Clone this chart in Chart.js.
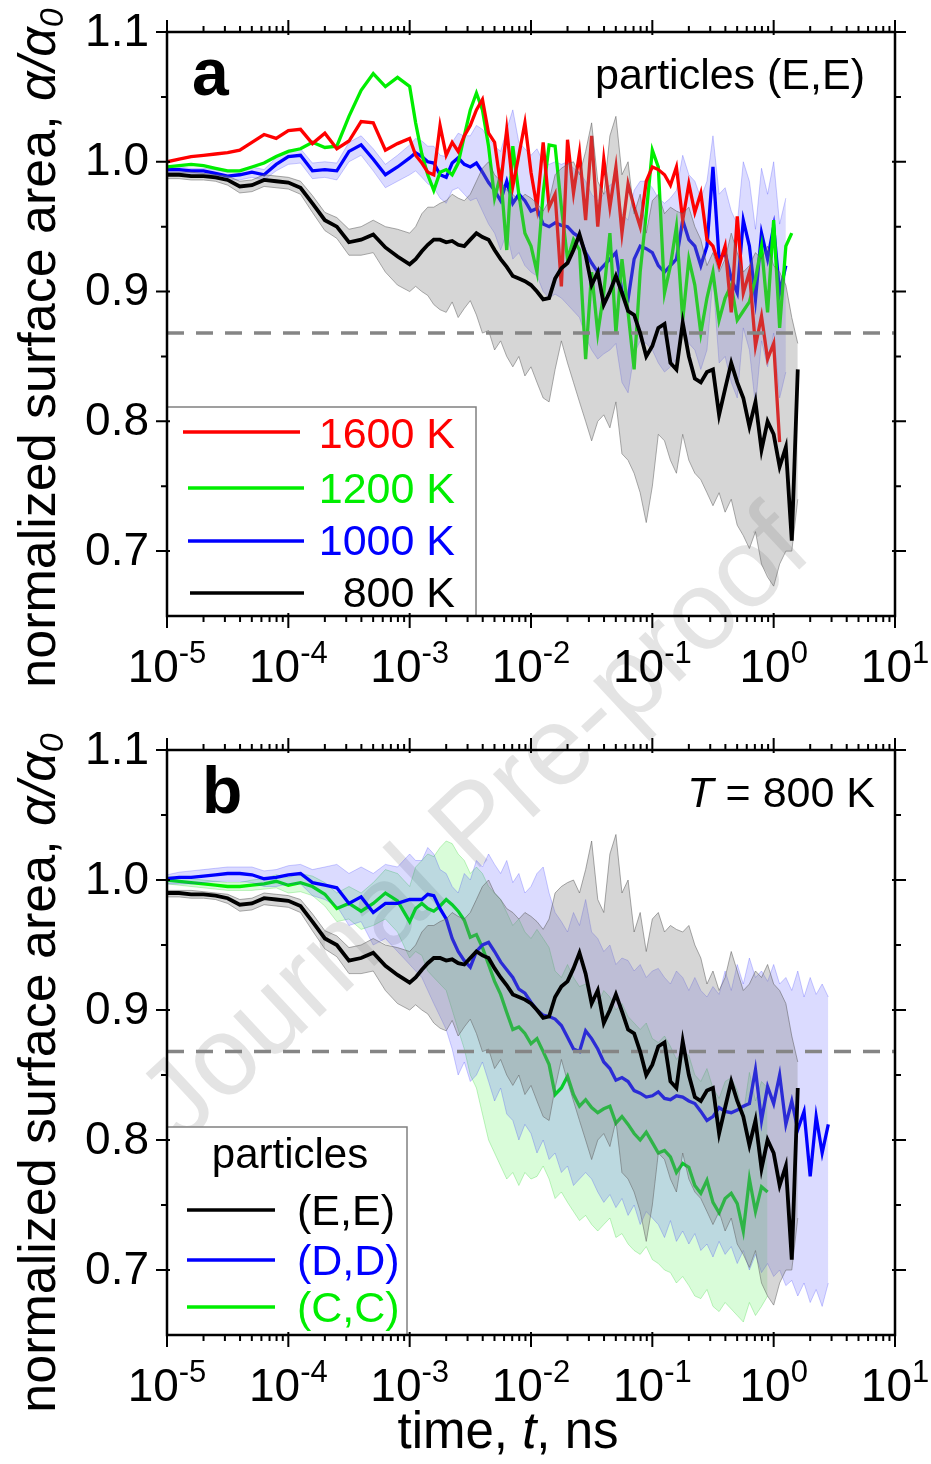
<!DOCTYPE html>
<html>
<head>
<meta charset="utf-8">
<script src="https://cdn.jsdelivr.net/npm/chart.js@4.4.1/dist/chart.umd.min.js"></script>
<style>
  html, body { margin: 0; padding: 0; background: #fff; }
  #page { position: relative; width: 931px; height: 1464px; overflow: hidden; }
  #wm { position: absolute; left: 472px; top: 822px; transform: translate(-50%, -50%) rotate(-43deg);
        font: 112px "Liberation Sans", Arial, sans-serif; color: #e4e4e4; white-space: nowrap; }
  canvas { position: absolute; left: 0; }
  #ca { top: 0; }
  #cb { top: 720px; }
</style>
</head>
<body>
<div id="page">
  <div id="wm">Journal Pre-proof</div>
  <canvas id="ca" width="931" height="720"></canvas>
  <canvas id="cb" width="931" height="744"></canvas>
</div>
<script>
const FONT = '"Liberation Sans", Arial, sans-serif';

// time grid, ns
const TIME = [
  1e-5, 1.26e-5, 1.58e-5, 2e-5, 2.51e-5, 3.16e-5, 3.98e-5, 5.01e-5, 6.31e-5, 7.94e-5,
  1e-4, 1.26e-4, 1.58e-4, 2e-4, 2.51e-4, 3.16e-4, 3.98e-4, 5.01e-4, 6.31e-4, 7.94e-4,
  1e-3, 1.12e-3, 1.26e-3, 1.41e-3, 1.58e-3, 1.78e-3, 2e-3, 2.24e-3, 2.51e-3, 2.82e-3,
  3.16e-3, 3.55e-3, 3.98e-3, 4.47e-3, 5.01e-3, 5.62e-3, 6.31e-3, 7.08e-3, 7.94e-3, 8.91e-3,
  1e-2, 1.12e-2, 1.26e-2, 1.41e-2, 1.58e-2, 1.78e-2, 2e-2, 2.24e-2, 2.51e-2, 2.82e-2,
  3.16e-2, 3.55e-2, 3.98e-2, 4.47e-2, 5.01e-2, 5.62e-2, 6.31e-2, 7.08e-2, 7.94e-2, 8.91e-2,
  0.1, 0.112, 0.126, 0.141, 0.158, 0.178, 0.2, 0.224, 0.251, 0.282,
  0.316, 0.355, 0.398, 0.447, 0.501, 0.562, 0.631, 0.708, 0.794, 0.891,
  1, 1.12, 1.26, 1.41, 1.58, 1.78, 2, 2.24, 2.51, 2.82
];

// 800 K, particles (E,E) -- shared by both panels
const EE_800 = [
  0.990, 0.990, 0.989, 0.989, 0.988, 0.986, 0.981, 0.982, 0.986, 0.985,
  0.984, 0.980, 0.968, 0.955, 0.950, 0.938, 0.940, 0.944, 0.934, 0.927,
  0.921, 0.925, 0.931, 0.936, 0.940, 0.940, 0.938, 0.939, 0.936, 0.935,
  0.940, 0.945, 0.942, 0.940, 0.932, 0.925, 0.919, 0.912, 0.910, 0.908,
  0.905, 0.900, 0.894, 0.895, 0.910, 0.918, 0.922, 0.932, 0.944, 0.928,
  0.905, 0.915, 0.890, 0.900, 0.912, 0.899, 0.885, 0.882, 0.868, 0.850,
  0.858, 0.872, 0.875, 0.845, 0.840, 0.876, 0.850, 0.833, 0.830, 0.838,
  0.840, 0.805, 0.825, 0.845, 0.830, 0.818, 0.796, 0.815, 0.778, 0.800,
  0.790, 0.765, 0.780, 0.708, 0.840, null, null, null, null, null
];
const EE_800_LO = [
  0.987, 0.987, 0.986, 0.986, 0.985, 0.982, 0.976, 0.977, 0.981, 0.980,
  0.979, 0.975, 0.961, 0.947, 0.941, 0.928, 0.928, 0.930, 0.915, 0.905,
  0.900, 0.904, 0.900, 0.897, 0.890, 0.886, 0.884, 0.892, 0.880, 0.887,
  0.893, 0.882, 0.868, 0.870, 0.855, 0.862, 0.850, 0.842, 0.850, 0.835,
  0.842, 0.830, 0.818, 0.815, 0.840, 0.862, 0.845, 0.830, 0.815, 0.800,
  0.785, 0.800, 0.805, 0.795, 0.815, 0.775, 0.770, 0.760, 0.745, 0.722,
  0.750, 0.790, 0.785, 0.770, 0.760, 0.790, 0.770, 0.760, 0.755, 0.745,
  0.735, 0.745, 0.730, 0.740, 0.720, 0.712, 0.702, 0.715, 0.690, 0.680,
  0.673, 0.690, 0.700, 0.700, 0.740, null, null, null, null, null
];
const EE_800_HI = [
  0.992, 0.992, 0.992, 0.991, 0.990, 0.989, 0.985, 0.986, 0.990, 0.989,
  0.988, 0.985, 0.974, 0.961, 0.957, 0.948, 0.950, 0.955, 0.950, 0.948,
  0.945, 0.950, 0.960, 0.965, 0.965, 0.968, 0.970, 0.975, 0.972, 0.970,
  0.975, 0.985, 0.995, 1.000, 0.990, 0.985, 0.978, 0.975, 0.970, 0.975,
  0.972, 0.968, 0.962, 0.970, 0.990, 0.995, 0.998, 1.000, 0.990, 1.008,
  1.030, 0.985, 0.975, 1.020, 1.035, 0.990, 1.000, 0.960, 0.975, 0.945,
  0.970, 0.975, 0.960, 0.965, 0.962, 0.960, 0.965, 0.950, 0.940, 0.920,
  0.930, 0.915, 0.925, 0.945, 0.930, 0.915, 0.920, 0.930, 0.925, 0.935,
  0.920, 0.915, 0.905, 0.880, 0.860, null, null, null, null, null
];

// panel a, particles (E,E)
const EE_1600 = [
  1.000, 1.002, 1.004, 1.005, 1.006, 1.007, 1.009, 1.015, 1.021, 1.018,
  1.024, 1.025, 1.014, 1.022, 1.010, 1.016, 1.031, 1.030, 1.009, 1.014,
  1.018, 1.005, 0.999, 0.992, 0.990, 1.028, 1.005, 1.015, 1.008, 1.020,
  1.028, 1.040, 1.048, 1.022, 1.015, 0.982, 1.025, 0.981, 1.005, 1.030,
  0.992, 0.965, 1.015, 0.965, 0.975, 0.904, 1.017, 0.976, 1.007, 0.955,
  1.020, 0.950, 1.002, 0.965, 0.996, 0.945, 0.983, 0.965, 0.950, 0.985,
  0.996, 0.994, 0.990, 0.982, 0.996, 0.955, 0.983, 0.961, 0.976, 0.940,
  0.935, 0.920, 0.935, 0.884, 0.958, 0.899, 0.915, 0.858, 0.881, 0.848,
  0.860, 0.784, null, null, null, null, null, null, null, null
];
const EE_1200 = [
  0.996, 0.997, 0.998, 0.997, 0.995, 0.993, 0.993, 0.996, 0.999, 1.004,
  1.008, 1.010, 1.015, 1.011, 1.012, 1.035, 1.055, 1.068, 1.058, 1.065,
  1.058, 1.030, 1.006, 0.990, 0.978, 0.992, 0.994, 0.990, 0.999, 1.020,
  1.040, 1.053, 1.040, 1.012, 0.972, 0.990, 0.932, 1.012, 0.975, 0.945,
  0.935, 0.915, 0.976, 1.013, 1.012, 0.965, 0.925, 0.940, 0.932, 0.848,
  0.915, 0.868, 0.899, 0.945, 0.868, 0.925, 0.884, 0.840, 0.915, 0.960,
  1.009, 0.996, 0.899, 0.920, 0.950, 0.878, 0.925, 0.905, 0.868, 0.895,
  0.915, 0.878, 0.895, 0.905, 0.878, 0.885, 0.892, 0.910, 0.935, 0.884,
  0.955, 0.872, 0.935, 0.945, null, null, null, null, null, null
];
const EE_1000 = [
  0.994, 0.994, 0.993, 0.993, 0.991, 0.989, 0.990, 0.992, 0.990, 0.998,
  1.004, 1.005, 0.993, 0.994, 0.993, 1.008, 1.013, 1.002, 0.990, 0.996,
  1.003, 1.007, 1.004, 1.000, 0.999, 0.990, 0.988, 0.999, 1.003, 0.998,
  0.996, 0.999, 0.992, 0.984, 0.978, 0.970, 0.985, 0.968, 0.975, 0.970,
  0.962, 0.964, 0.952, 0.950, 0.953, 0.951, 0.950, 0.945, 0.942, 0.930,
  0.922, 0.915, 0.920, 0.925, 0.930, 0.900, 0.894, 0.925, 0.935, 0.933,
  0.930, 0.920, 0.915, 0.920, 0.925, 0.955, 0.940, 0.935, 0.920, 0.935,
  0.996, 0.925, 0.930, 0.910, 0.899, 0.955, 0.935, 0.894, 0.945, 0.925,
  0.950, 0.899, 0.920, null, null, null, null, null, null, null
];
const EE_1000_LO = [
  0.992, 0.992, 0.991, 0.991, 0.989, 0.986, 0.986, 0.988, 0.986, 0.993,
  0.998, 0.999, 0.987, 0.988, 0.986, 1.000, 1.005, 0.993, 0.980, 0.985,
  0.990, 0.993, 0.988, 0.983, 0.980, 0.972, 0.968, 0.978, 0.980, 0.975,
  0.970, 0.972, 0.962, 0.952, 0.945, 0.932, 0.945, 0.925, 0.930, 0.920,
  0.915, 0.912, 0.900, 0.895, 0.898, 0.895, 0.890, 0.885, 0.880, 0.865,
  0.855, 0.848, 0.852, 0.855, 0.860, 0.830, 0.822, 0.852, 0.862, 0.860,
  0.855, 0.845, 0.838, 0.842, 0.848, 0.875, 0.860, 0.855, 0.840, 0.855,
  0.910, 0.845, 0.850, 0.830, 0.818, 0.872, 0.855, 0.812, 0.862, 0.842,
  0.868, 0.818, 0.838, null, null, null, null, null, null, null
];
const EE_1000_HI = [
  0.996, 0.996, 0.995, 0.995, 0.994, 0.992, 0.993, 0.996, 0.994, 1.003,
  1.009, 1.010, 0.999, 1.000, 0.999, 1.015, 1.020, 1.010, 0.998, 1.005,
  1.013, 1.018, 1.016, 1.012, 1.012, 1.005, 1.004, 1.015, 1.022, 1.020,
  1.020, 1.028, 1.025, 1.018, 1.012, 1.008, 1.025, 1.040, 1.015, 1.010,
  1.005, 1.010, 1.000, 0.998, 1.000, 0.998, 1.000, 0.995, 0.992, 0.985,
  0.975, 0.970, 0.975, 0.982, 0.985, 0.960, 0.955, 0.978, 0.985, 0.985,
  0.980, 0.972, 0.968, 0.972, 0.978, 1.005, 0.990, 0.985, 0.972, 0.985,
  1.020, 0.975, 0.980, 0.962, 0.952, 1.000, 0.985, 0.948, 0.995, 0.975,
  1.000, 0.952, 0.972, null, null, null, null, null, null, null
];

// panel b, T = 800 K
const DD_800 = [
  1.001, 1.002, 1.002, 1.003, 1.004, 1.005, 1.005, 1.004, 1.001, 1.002,
  1.004, 1.005, 0.998, 0.996, 0.994, 0.982, 0.987, 0.975, 0.982, 0.982,
  0.985, 0.985, 0.985, 0.989, 0.988, 0.978, 0.970, 0.955, 0.945, 0.938,
  0.933, 0.945, 0.950, 0.952, 0.945, 0.937, 0.931, 0.925, 0.916, 0.913,
  0.906, 0.900, 0.896, 0.895, 0.893, 0.888, 0.879, 0.870, 0.868, 0.884,
  0.878, 0.870, 0.860, 0.855, 0.846, 0.848, 0.845, 0.838, 0.836, 0.833,
  0.834, 0.837, 0.832, 0.831, 0.834, 0.833, 0.830, 0.828, 0.822, 0.815,
  0.818, 0.825, 0.822, 0.821, 0.823, 0.826, 0.828, 0.854, 0.815, 0.841,
  0.828, 0.850, 0.812, 0.830, 0.808, 0.822, 0.772, 0.818, 0.790, 0.812
];
const DD_800_LO = [
  0.997, 0.997, 0.997, 0.998, 0.999, 0.999, 0.999, 0.998, 0.995, 0.995,
  0.997, 0.997, 0.988, 0.985, 0.980, 0.965, 0.968, 0.950, 0.955, 0.945,
  0.935, 0.930, 0.925, 0.915, 0.905, 0.895, 0.885, 0.870, 0.850, 0.860,
  0.845, 0.850, 0.860, 0.845, 0.830, 0.840, 0.820, 0.815, 0.800, 0.812,
  0.805, 0.790, 0.800, 0.785, 0.790, 0.775, 0.780, 0.765, 0.770, 0.775,
  0.770, 0.760, 0.752, 0.758, 0.748, 0.755, 0.742, 0.750, 0.735, 0.745,
  0.740, 0.735, 0.725, 0.738, 0.722, 0.730, 0.720, 0.728, 0.715, 0.720,
  0.710, 0.722, 0.712, 0.718, 0.705, 0.715, 0.700, 0.712, 0.698, 0.705,
  0.695, 0.700, 0.688, 0.692, 0.680, 0.690, 0.675, 0.685, 0.672, 0.690
];
const DD_800_HI = [
  1.004, 1.006, 1.007, 1.008, 1.009, 1.010, 1.010, 1.010, 1.007, 1.008,
  1.011, 1.012, 1.008, 1.010, 1.012, 1.005, 1.010, 1.005, 1.012, 1.010,
  1.020, 1.015, 1.015, 1.025, 1.020, 1.008, 1.005, 0.995, 0.990, 1.005,
  1.000, 1.015, 1.010, 1.020, 1.012, 1.005, 1.015, 0.998, 1.005, 0.990,
  0.995, 1.005, 1.010, 0.990, 0.975, 0.968, 0.960, 0.975, 0.965, 0.985,
  0.960, 0.955, 0.945, 0.950, 0.935, 0.940, 0.938, 0.930, 0.935, 0.925,
  0.930, 0.932, 0.925, 0.920, 0.930, 0.925, 0.915, 0.925, 0.915, 0.910,
  0.918, 0.912, 0.930, 0.915, 0.935, 0.920, 0.940, 0.925, 0.930, 0.922,
  0.935, 0.920, 0.925, 0.915, 0.930, 0.910, 0.925, 0.912, 0.920, 0.910
];
const CC_800 = [
  1.000, 0.999, 0.998, 0.997, 0.996, 0.995, 0.995, 0.996, 0.997, 0.999,
  0.996, 0.998, 0.995, 0.989, 0.978, 0.982, 0.976, 0.982, 0.990, 0.984,
  0.968, 0.978, 0.982, 0.978, 0.976, 0.980, 0.985, 0.981, 0.976, 0.969,
  0.956, 0.958, 0.948, 0.935, 0.922, 0.912, 0.898, 0.885, 0.887, 0.882,
  0.874, 0.878, 0.868, 0.858, 0.835, 0.840, 0.849, 0.835, 0.826, 0.831,
  0.825, 0.821, 0.824, 0.826, 0.813, 0.818, 0.812, 0.805, 0.800, 0.806,
  0.798, 0.790, 0.792, 0.787, 0.775, 0.782, 0.779, 0.765, 0.759, 0.769,
  0.752, 0.744, 0.755, 0.759, 0.751, 0.730, 0.770, 0.745, 0.764, 0.760,
  null, null, null, null, null, null, null, null, null, null
];
const CC_800_LO = [
  0.997, 0.996, 0.995, 0.994, 0.993, 0.992, 0.992, 0.992, 0.993, 0.994,
  0.990, 0.991, 0.988, 0.980, 0.968, 0.970, 0.962, 0.965, 0.970, 0.960,
  0.940, 0.945, 0.942, 0.930, 0.925, 0.920, 0.915, 0.900, 0.885, 0.870,
  0.850, 0.840, 0.820, 0.800, 0.790, 0.780, 0.770, 0.775, 0.765, 0.775,
  0.770, 0.772, 0.780, 0.770, 0.755, 0.760, 0.752, 0.745, 0.738, 0.742,
  0.735, 0.730, 0.735, 0.740, 0.725, 0.728, 0.720, 0.715, 0.712, 0.718,
  0.708, 0.705, 0.700, 0.698, 0.690, 0.695, 0.688, 0.680, 0.678, 0.685,
  0.672, 0.668, 0.675, 0.670, 0.665, 0.660, 0.675, 0.665, 0.672, 0.680,
  null, null, null, null, null, null, null, null, null, null
];
const CC_800_HI = [
  1.003, 1.002, 1.001, 1.000, 0.999, 0.998, 0.998, 1.000, 1.001, 1.004,
  1.002, 1.005, 1.003, 0.998, 0.990, 0.995, 0.990, 0.998, 1.008, 1.005,
  0.995, 1.010, 1.015, 1.020, 1.018, 1.025, 1.030, 1.028, 1.020, 1.015,
  1.005, 1.010, 1.005, 0.995, 0.990, 0.985, 0.975, 0.965, 0.970, 0.960,
  0.955, 0.962, 0.955, 0.948, 0.930, 0.925, 0.935, 0.925, 0.918, 0.920,
  0.910, 0.905, 0.915, 0.910, 0.900, 0.905, 0.895, 0.890, 0.885, 0.890,
  0.878, 0.875, 0.880, 0.872, 0.862, 0.868, 0.865, 0.850, 0.845, 0.855,
  0.840, 0.832, 0.845, 0.848, 0.838, 0.820, 0.852, 0.830, 0.845, 0.840,
  null, null, null, null, null, null, null, null, null, null
];

const DASH_LEVEL = 0.868;
const Y_MAJOR = [0.7, 0.8, 0.9, 1.0, 1.1];
const Y_MINOR = [0.75, 0.85, 0.95, 1.05];
const X_EXP = [-5, -4, -3, -2, -1, 0, 1];

const pts = (arr) => TIME.map((t, i) => arr[i] == null ? null : { x: t, y: arr[i] }).filter(Boolean);

function line(arr, color, width) {
  return { data: pts(arr), borderColor: color, borderWidth: width, fill: false, pointRadius: 0 };
}
function band(arr, fillColor, edge, fillTo) {
  return { data: pts(arr), borderColor: edge, borderWidth: 0.8, backgroundColor: fillColor, fill: fillTo, pointRadius: 0 };
}
function dash() {
  return { data: [{ x: 1e-5, y: DASH_LEVEL }, { x: 10, y: DASH_LEVEL }], borderColor: '#858585',
           borderWidth: 3.5, borderDash: [17, 12], fill: false, pointRadius: 0 };
}

function runs(ctx, parts, x, y, align) {
  let w = 0;
  for (const p of parts) { ctx.font = p.font; p.w = ctx.measureText(p.text).width; w += p.w; }
  let cx = align === 'center' ? x - w / 2 : align === 'right' ? x - w : x;
  for (const p of parts) {
    ctx.font = p.font;
    ctx.fillStyle = p.color || '#000';
    ctx.fillText(p.text, cx, y + (p.dy || 0));
    cx += p.w;
  }
}

const decor = {
  id: 'decor',
  afterDraw(chart, args, o) {
    const { ctx, chartArea: a, scales: { x, y } } = chart;
    ctx.save();
    ctx.textAlign = 'left';
    ctx.textBaseline = 'alphabetic';

    // legend box
    const lg = o.legend;
    ctx.fillStyle = '#fff';
    ctx.fillRect(lg.x, lg.y, lg.w, lg.h);
    ctx.strokeStyle = '#808080';
    ctx.lineWidth = 1.5;
    ctx.strokeRect(lg.x, lg.y, lg.w, lg.h);
    if (lg.title) runs(ctx, [{ text: lg.title, font: '42px ' + FONT }], lg.titleX, lg.titleY, 'center');
    for (const it of lg.items) {
      ctx.strokeStyle = it.color;
      ctx.lineWidth = 3.5;
      ctx.beginPath(); ctx.moveTo(it.x1, it.ly); ctx.lineTo(it.x2, it.ly); ctx.stroke();
      runs(ctx, [{ text: it.text, font: '43px ' + FONT, color: it.color }], lg.textX, it.ty, lg.textAlign);
    }

    // frame
    ctx.strokeStyle = '#000';
    ctx.lineWidth = 2.5;
    ctx.strokeRect(a.left, a.top, a.right - a.left, a.bottom - a.top);

    // ticks
    ctx.lineWidth = 2;
    ctx.beginPath();
    for (const v of Y_MAJOR) {
      const py = y.getPixelForValue(v);
      ctx.moveTo(a.left - 11, py); ctx.lineTo(a.left + 3, py);
      ctx.moveTo(a.right - 3, py); ctx.lineTo(a.right + 11, py);
    }
    for (const v of Y_MINOR) {
      const py = y.getPixelForValue(v);
      ctx.moveTo(a.left - 6, py); ctx.lineTo(a.left, py);
      ctx.moveTo(a.right, py); ctx.lineTo(a.right + 6, py);
    }
    for (const k of X_EXP) {
      const px = x.getPixelForValue(Math.pow(10, k));
      ctx.moveTo(px, a.bottom - 3); ctx.lineTo(px, a.bottom + 12);
      ctx.moveTo(px, a.top + 3); ctx.lineTo(px, a.top - 12);
      if (k < 1) {
        for (let m = 2; m < 10; m++) {
          const pm = x.getPixelForValue(m * Math.pow(10, k));
          ctx.moveTo(pm, a.bottom); ctx.lineTo(pm, a.bottom + 6);
          ctx.moveTo(pm, a.top); ctx.lineTo(pm, a.top - 6);
        }
      }
    }
    ctx.stroke();

    // y tick labels
    ctx.textBaseline = 'middle';
    ctx.textAlign = 'right';
    ctx.fillStyle = '#000';
    ctx.font = '46px ' + FONT;
    for (const v of Y_MAJOR) ctx.fillText(v.toFixed(1), 149, y.getPixelForValue(v) + 1);
    ctx.textAlign = 'left';
    ctx.textBaseline = 'alphabetic';

    // x tick labels 10^k
    for (const k of X_EXP) {
      const px = x.getPixelForValue(Math.pow(10, k));
      runs(ctx, [
        { text: '10', font: '46px ' + FONT },
        { text: String(k), font: '31px ' + FONT, dy: -19 }
      ], px, a.bottom + 66, 'center');
    }

    // y title
    ctx.save();
    ctx.translate(55, o.yTitleY);
    ctx.rotate(-Math.PI / 2);
    runs(ctx, [
      { text: 'normalized surface area, ', font: '52px ' + FONT },
      { text: '\u03B1/\u03B1', font: 'italic 52px ' + FONT },
      { text: '0', font: 'italic 34px ' + FONT, dy: 8 }
    ], 0, 0, 'center');
    ctx.restore();

    // x title
    if (o.xTitle) {
      runs(ctx, [
        { text: 'time, ', font: '51px ' + FONT },
        { text: 't', font: 'italic 51px ' + FONT },
        { text: ', ns', font: '51px ' + FONT }
      ], 508, a.bottom + 113, 'center');
    }

    // panel letter and note
    runs(ctx, [{ text: o.letter, font: 'bold 66px ' + FONT }], o.letterX, a.top + 63, 'left');
    runs(ctx, o.note, o.noteX, a.top + 57, 'right');
    ctx.restore();
  }
};

function makeChart(id, datasets, bottomPad, top, o) {
  return new Chart(document.getElementById(id), {
    type: 'line',
    data: { datasets },
    plugins: [decor],
    options: {
      responsive: false,
      animation: false,
      devicePixelRatio: 1,
      layout: { padding: { left: 167, right: 36, top: top, bottom: bottomPad } },
      plugins: { legend: { display: false }, tooltip: { enabled: false }, decor: o },
      scales: {
        x: { type: 'logarithmic', min: 1e-5, max: 10, display: false },
        y: { type: 'linear', min: 0.65, max: 1.1, display: false }
      },
      elements: { line: { tension: 0 }, point: { radius: 0 } }
    }
  });
}

const GREY_FILL = 'rgba(130,130,130,0.33)', GREY_EDGE = 'rgba(90,90,90,0.65)';
const BLUE_FILL = 'rgba(40,40,255,0.17)', BLUE_EDGE = 'rgba(40,40,255,0.3)';
const GREEN_FILL = 'rgba(0,235,0,0.15)', GREEN_EDGE = 'rgba(0,200,0,0.3)';

// panel a
makeChart('ca', [
  line(EE_800, '#000', 3.8),
  dash(),
  band(EE_800_HI, GREY_FILL, GREY_EDGE, '+1'),
  band(EE_800_LO, GREY_FILL, GREY_EDGE, false),
  line(EE_1600, '#ff0000', 3.3),
  line(EE_1200, '#00ee00', 3.3),
  line(EE_1000, '#0000ff', 3.3),
  band(EE_1000_HI, BLUE_FILL, BLUE_EDGE, '+1'),
  band(EE_1000_LO, BLUE_FILL, BLUE_EDGE, false)
], 104, 32, {
  legend: {
    x: 167, y: 407, w: 309, h: 209, textX: 455, textAlign: 'right',
    items: [
      { text: '1600 K', color: '#ff0000', x1: 183, x2: 300, ly: 432, ty: 448 },
      { text: '1200 K', color: '#00ee00', x1: 188, x2: 304, ly: 488, ty: 503 },
      { text: '1000 K', color: '#0000ff', x1: 188, x2: 304, ly: 541, ty: 555 },
      { text: '800 K', color: '#000000', x1: 190, x2: 304, ly: 593, ty: 607 }
    ]
  },
  yTitleY: 348,
  xTitle: false,
  letter: 'a', letterX: 192,
  note: [{ text: 'particles (E,E)', font: '43px ' + FONT }], noteX: 865
});

// panel b
makeChart('cb', [
  line(EE_800, '#000', 3.8),
  dash(),
  band(EE_800_HI, GREY_FILL, GREY_EDGE, '+1'),
  band(EE_800_LO, GREY_FILL, GREY_EDGE, false),
  line(DD_800, '#0000ff', 3.3),
  band(DD_800_HI, BLUE_FILL, BLUE_EDGE, '+1'),
  band(DD_800_LO, BLUE_FILL, BLUE_EDGE, false),
  line(CC_800, '#00ee00', 3.3),
  band(CC_800_HI, GREEN_FILL, GREEN_EDGE, '+1'),
  band(CC_800_LO, GREEN_FILL, GREEN_EDGE, false)
], 129, 30, {
  legend: {
    x: 167, y: 407, w: 240, h: 208, textX: 297, textAlign: 'left',
    title: 'particles', titleX: 290, titleY: 448,
    items: [
      { text: '(E,E)', color: '#000000', x1: 187, x2: 275, ly: 490, ty: 505 },
      { text: '(D,D)', color: '#0000ff', x1: 187, x2: 275, ly: 540, ty: 555 },
      { text: '(C,C)', color: '#00ee00', x1: 187, x2: 275, ly: 587, ty: 602 }
    ]
  },
  yTitleY: 353,
  xTitle: true,
  letter: 'b', letterX: 202,
  note: [
    { text: 'T', font: 'italic 43px ' + FONT },
    { text: ' = 800 K', font: '43px ' + FONT }
  ], noteX: 875
});
</script>
</body>
</html>
